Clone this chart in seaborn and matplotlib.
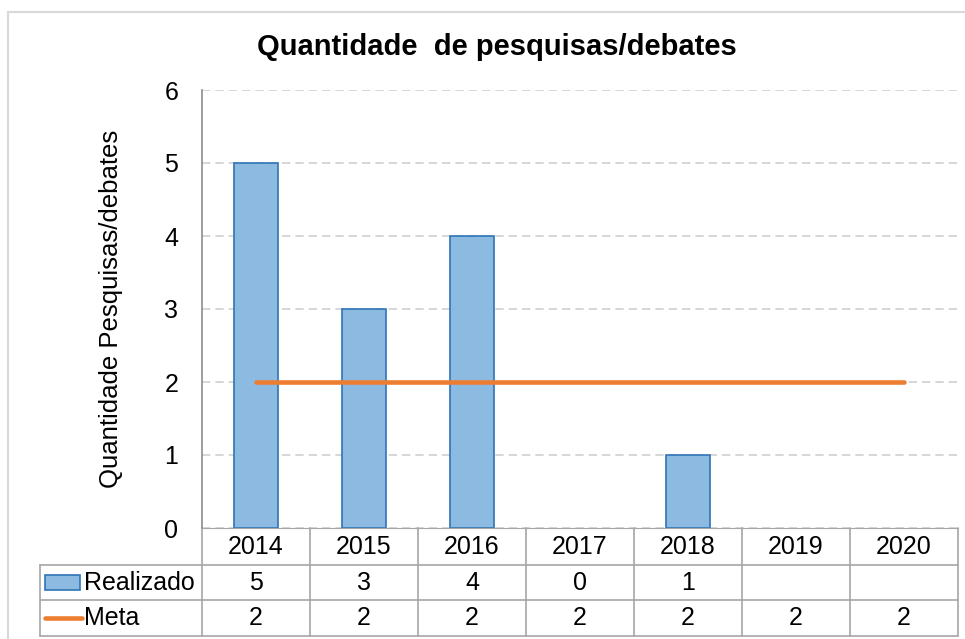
import pandas as pd
import matplotlib.pyplot as plt
import matplotlib.transforms as mtransforms
from matplotlib.patches import Rectangle
import seaborn as sns

# dados
anos = ["2014", "2015", "2016", "2017", "2018", "2019", "2020"]
realizado = [5, 3, 4, 0, 1, None, None]
meta = [2, 2, 2, 2, 2, 2, 2]

df = pd.DataFrame({"Ano": anos, "Realizado": realizado, "Meta": meta})

azul = "#8DBAE1"
azul_borda = "#2E75B6"
laranja = "#ED7D31"
cinza_linha = "#A6A6A6"
fs = 18

sns.set_style("white")
plt.rcParams["font.family"] = ["Liberation Sans", "DejaVu Sans"]
plt.rcParams["text.color"] = "black"
plt.rcParams["ytick.color"] = "black"
plt.rcParams["axes.labelcolor"] = "black"

fig = plt.figure(figsize=(9.65, 6.39), dpi=100)
ax = fig.add_axes([202 / 965, 1 - 528 / 639, 756 / 965, 438 / 639])

sns.barplot(data=df, x="Ano", y="Realizado", color=azul, edgecolor=azul_borda,
            linewidth=1.2, width=0.41, saturation=1, ax=ax, zorder=2)
# barra com valor zero nao aparece
for p in ax.patches:
    if p.get_height() == 0:
        p.set_linewidth(0)
sns.pointplot(data=df, x="Ano", y="Meta", color=laranja, markers="",
              linewidth=3.3, errorbar=None, ax=ax, zorder=3)

ax.set_xlim(-0.5, 6.5)
ax.set_ylim(0, 6)
ax.set_yticks(range(0, 7))
ax.tick_params(axis="y", length=0, pad=17, labelsize=fs)
ax.set_xticks([])
ax.set_xlabel("")
ax.set_ylabel("Quantidade Pesquisas/debates", fontsize=18.5)
ax.yaxis.set_label_coords(-0.105, 0.5)
ax.grid(axis="y", color="#D0D0D0", linestyle=(0, (5, 3)), linewidth=1.2, zorder=0)
ax.set_axisbelow(True)
for s in ["top", "right"]:
    ax.spines[s].set_visible(False)
ax.spines["left"].set_color("#8C8C8C")
ax.spines["bottom"].set_color(cinza_linha)
ax.spines["left"].set_linewidth(1.2)

# tabela de dados embaixo do grafico
trans = mtransforms.blended_transform_factory(ax.transData, ax.transAxes)
linhas_y = [0, -0.0845, -0.1644, -0.2466]
esq = -2.0
kw = dict(color=cinza_linha, linewidth=1.2, transform=trans, clip_on=False)
for y in linhas_y[1:]:
    ax.plot([esq, 6.5], [y, y], **kw)
ax.plot([esq, esq], [linhas_y[1], linhas_y[3]], **kw)
for i in range(len(anos) + 1):
    ax.plot([i - 0.5, i - 0.5], [0, linhas_y[3]], **kw)

y_cab = (linhas_y[0] + linhas_y[1]) / 2
y_real = (linhas_y[1] + linhas_y[2]) / 2
y_meta = (linhas_y[2] + linhas_y[3]) / 2
for i, ano in enumerate(anos):
    ax.text(i, y_cab, ano, ha="center", va="center", fontsize=fs, transform=trans)
    if realizado[i] is not None:
        ax.text(i, y_real, str(realizado[i]), ha="center", va="center", fontsize=fs, transform=trans)
    ax.text(i, y_meta, str(meta[i]), ha="center", va="center", fontsize=fs, transform=trans)

ax.add_patch(Rectangle((-1.954, -0.1416), 0.324, 0.0343, facecolor=azul,
                       edgecolor=azul_borda, linewidth=1.2, transform=trans, clip_on=False))
ax.plot([-1.954, -1.611], [y_meta, y_meta], color=laranja, linewidth=3.3,
        transform=trans, clip_on=False)
ax.text(-1.593, y_real, "Realizado", ha="left", va="center", fontsize=fs, transform=trans)
ax.text(-1.593, y_meta, "Meta", ha="left", va="center", fontsize=fs, transform=trans)

# titulo e borda externa
fig.text(497 / 965, 1 - 47 / 639, "Quantidade  de pesquisas/debates",
         ha="center", va="center", fontsize=21, fontweight="bold")
fig.patches.append(Rectangle((8 / 965, -0.05), 1.1, 1 - 12 / 639 + 0.05, fill=False,
                             edgecolor="#D9D9D9", linewidth=1.5, transform=fig.transFigure))

fig.savefig("out.png", dpi=100)
